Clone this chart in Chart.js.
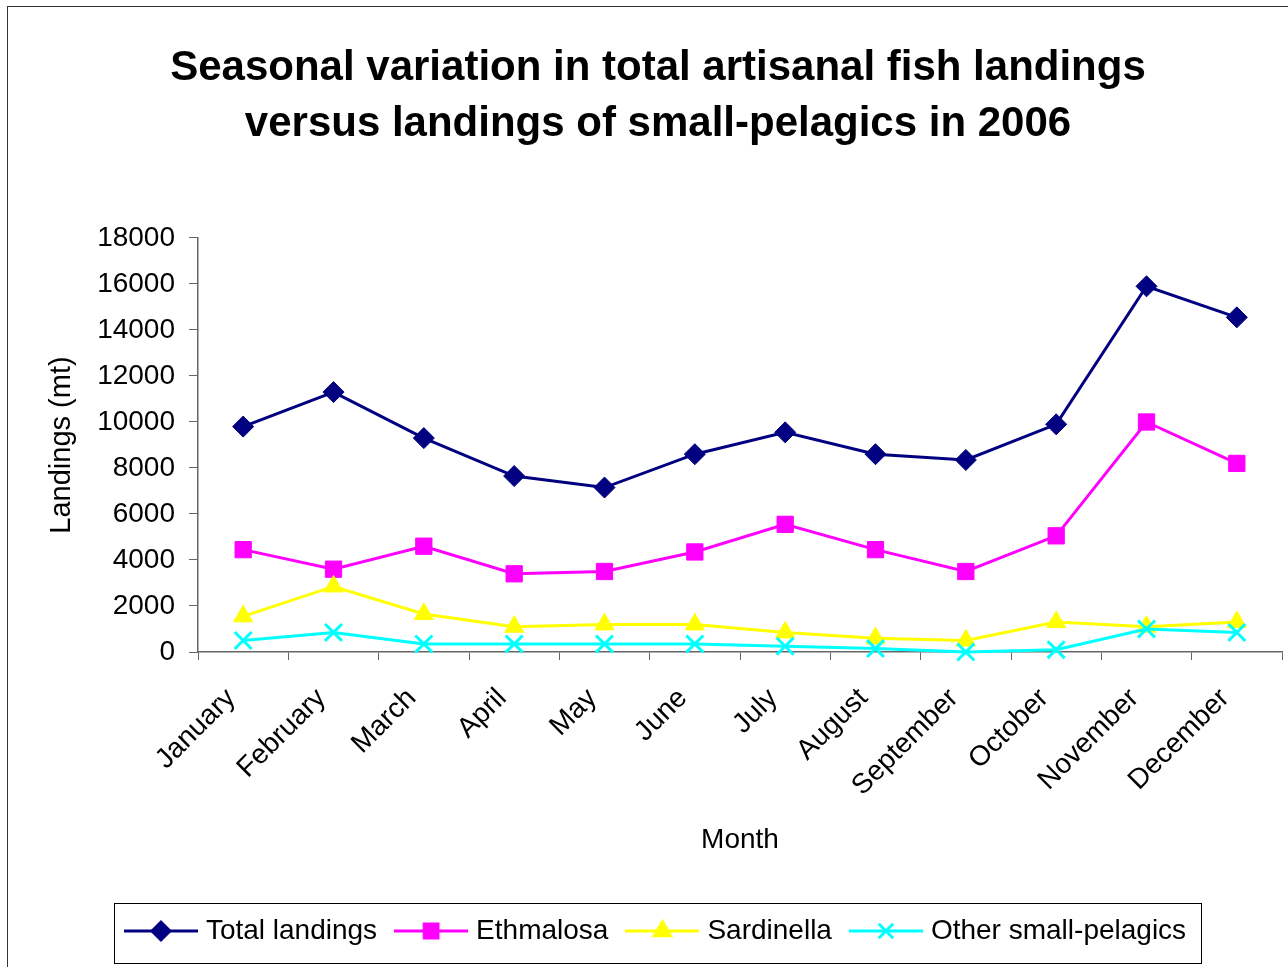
<!DOCTYPE html>
<html>
<head>
<meta charset="utf-8">
<title>Artisanal fish landings 2006</title>
<script src="https://cdn.jsdelivr.net/npm/chart.js@4.4.1/dist/chart.umd.min.js"></script>
<style>
  html, body { margin: 0; padding: 0; background: #fff; }
  #wrap { width: 1288px; height: 967px; }
</style>
</head>
<body>
<div id="wrap"><canvas id="landings-chart" width="1288" height="967"></canvas></div>
<script>
// monthly landings, metric tonnes
const months = ['January', 'February', 'March', 'April', 'May', 'June',
                'July', 'August', 'September', 'October', 'November', 'December'];
const totalLandings = [9800, 11300, 9300, 7650, 7150, 8600, 9550, 8600, 8350, 9900, 15900, 14550];
const ethmalosa     = [4450, 3600, 4600, 3400, 3500, 4350, 5550, 4450, 3500, 5050, 10000, 8200];
const sardinella    = [1550, 2850, 1650, 1100, 1200, 1200, 850, 600, 500, 1300, 1100, 1300];
const otherPelagics = [500, 850, 350, 350, 350, 350, 250, 150, 0, 100, 1000, 850];
const yTicks = [0, 2000, 4000, 6000, 8000, 10000, 12000, 14000, 16000, 18000];

const FONT = "'Liberation Sans', Arial, sans-serif";
Chart.defaults.font.family = FONT;
Chart.defaults.color = '#000';

const series = [
    { label: 'Total landings', data: totalLandings, color: '#000080', style: 'rectRot', radius: 10.5 },
    { label: 'Ethmalosa', data: ethmalosa, color: '#ff00ff', style: 'rect', radius: 11.5 },
    { label: 'Sardinella', data: sardinella, color: '#ffff00', style: 'triangle', radius: 11 },
    { label: 'Other small-pelagics', data: otherPelagics, color: '#00ffff', style: 'crossRot', radius: 12 }
];

// line + marker swatch for the legend (wider than the box slot so the line
// reaches close to the label text)
const ICON_W = 74;
const SLOT_W = 62;
function legendIcon(s) {
    const c = document.createElement('canvas');
    c.width = ICON_W;
    c.height = 26;
    const g = c.getContext('2d');
    g.strokeStyle = s.color;
    g.lineWidth = 3;
    g.beginPath();
    g.moveTo(0, 13);
    g.lineTo(ICON_W, 13);
    g.stroke();
    g.fillStyle = s.color;
    Chart.helpers.drawPoint(g, { pointStyle: s.style, radius: s.radius * 0.85, rotation: 0, borderWidth: 3 }, ICON_W / 2, 13);
    if (s.style !== 'crossRot') g.fill();
    return c;
}
const legendIcons = series.map(legendIcon);

// outer frame + box around the legend
const framePlugin = {
    id: 'frame',
    beforeDraw(chart) {
        const ctx = chart.ctx;
        ctx.save();
        ctx.fillStyle = '#fff';
        ctx.fillRect(0, 0, chart.width, chart.height);
        ctx.strokeStyle = '#333';
        ctx.lineWidth = 1;
        ctx.strokeRect(7.5, 6.5, chart.width + 20, chart.height + 20);
        ctx.restore();
    },
    afterDraw(chart) {
        const boxes = chart.legend.legendHitBoxes;
        if (!boxes || !boxes.length) return;
        const first = boxes[0];
        const last = boxes[boxes.length - 1];
        const mid = first.top + first.height / 2;
        const overhang = (ICON_W - SLOT_W) / 2;
        const ctx = chart.ctx;
        ctx.save();
        ctx.strokeStyle = '#000';
        ctx.lineWidth = 1;
        const x0 = Math.round(first.left - overhang - 10) + 0.5;
        const x1 = Math.round(last.left + last.width + 15) + 0.5;
        ctx.strokeRect(x0, Math.round(mid - 28) + 0.5, x1 - x0, 60);
        ctx.restore();
    }
};

const ctx = document.getElementById('landings-chart').getContext('2d');
new Chart(ctx, {
    type: 'line',
    data: {
        labels: months,
        datasets: series.map((s, i) => ({
            label: s.label,
            data: s.data,
            borderColor: s.color,
            backgroundColor: s.color,
            borderWidth: 3,
            tension: 0,
            pointStyle: s.style,
            pointRadius: s.radius,
            pointHoverRadius: s.radius,
            pointBorderWidth: s.style === 'crossRot' ? 3 : 1,
            clip: false,
            order: series.length - i
        }))
    },
    options: {
        responsive: false,
        animation: false,
        layout: {
            autoPadding: false,
            padding: { left: 34, right: 6, top: 0, bottom: 12 }
        },
        plugins: {
            title: {
                display: true,
                text: ['Seasonal variation in total artisanal fish landings',
                       'versus landings of small-pelagics in 2006'],
                font: { size: 42, weight: 'bold', lineHeight: 1.3333 },
                color: '#000',
                padding: { top: 40, bottom: 86 }
            },
            legend: {
                position: 'bottom',
                labels: {
                    usePointStyle: true,
                    pointStyleWidth: SLOT_W,
                    padding: 23,
                    font: { size: 28 },
                    color: '#000',
                    sort: (a, b) => a.datasetIndex - b.datasetIndex,
                    generateLabels(chart) {
                        const items = Chart.defaults.plugins.legend.labels.generateLabels(chart);
                        items.forEach(it => {
                            it.pointStyle = legendIcons[it.datasetIndex];
                            it.rotation = 0;
                        });
                        return items;
                    }
                }
            },
            tooltip: { enabled: false }
        },
        scales: {
            x: {
                type: 'category',
                offset: true,
                afterFit(scale) {
                    scale.height = 242;
                    scale.paddingRight = 0;
                },
                grid: {
                    offset: true,
                    drawOnChartArea: false,
                    drawTicks: true,
                    tickLength: 8,
                    color: '#666'
                },
                border: { color: '#666', width: 1.5 },
                ticks: {
                    autoSkip: false,
                    minRotation: 45,
                    maxRotation: 45,
                    padding: 22,
                    labelOffset: -12,
                    font: { size: 28 },
                    color: '#000'
                },
                title: {
                    display: true,
                    text: 'Month',
                    font: { size: 28 },
                    color: '#000',
                    padding: { top: 0, bottom: 37 }
                }
            },
            y: {
                min: 0,
                max: 18000,
                afterFit(scale) { scale.width = 164; },
                afterBuildTicks(scale) { scale.ticks = yTicks.map(v => ({ value: v })); },
                grid: {
                    drawOnChartArea: false,
                    drawTicks: true,
                    tickLength: 9,
                    color: '#666'
                },
                border: { color: '#666', width: 1.5 },
                ticks: {
                    padding: 14,
                    font: { size: 28 },
                    color: '#000',
                    callback: v => String(v)
                },
                title: {
                    display: true,
                    text: 'Landings (mt)',
                    font: { size: 29 },
                    color: '#000',
                    padding: { top: 11, bottom: 0 }
                }
            }
        }
    },
    plugins: [framePlugin]
});
</script>
</body>
</html>
